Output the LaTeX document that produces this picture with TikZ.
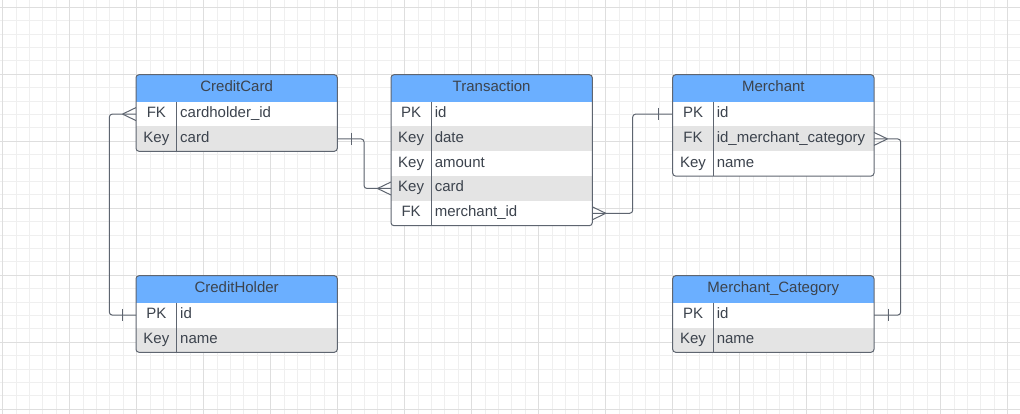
\documentclass[tikz,border=0pt]{standalone}
\usepackage{fontspec}
\setmainfont{Liberation Sans}
\usetikzlibrary{calc}
\definecolor{hdrblue}{HTML}{6BAFFF}
\definecolor{rowgray}{HTML}{E4E4E4}
\definecolor{txt}{HTML}{3C434D}
\definecolor{edge}{HTML}{5E6570}
\definecolor{gridminor}{HTML}{EFEFEF}
\definecolor{gridmajor}{HTML}{DEDEDE}
\tikzset{
  conn/.style={draw=edge, line width=1pt},
  tblborder/.style={draw=edge, line width=1pt, rounded corners=3pt},
  celltext/.style={text=txt, font=\fontsize{15}{17}\selectfont, inner sep=0pt, text height=12pt, text depth=5pt},
  rowbox/.style={inner sep=0pt, outer sep=0pt, minimum height=24.8pt, draw=none},
}
\newcommand\erdtable[8]{%
  \begin{scope}
    \clip[rounded corners=3pt] (#2,#3) rectangle ++(#4,{27+24.8*#7});
    \fill[hdrblue] (#2,#3) rectangle ++(#4,27);
    \node[rowbox, minimum width=#4pt, minimum height=27pt, anchor=north west] (#1) at (#2,#3) {};
    \node[celltext] (#1-title) at (#1.center) {#6};
    \foreach \kk/\ff/\cl [count=\i] in {#8} {
      \pgfmathsetmacro\yy{#3+27+24.8*(\i-1)}
      \node[rowbox, fill=\cl, minimum width=#4pt, anchor=north west] (#1-\i) at (#2,\yy) {};
      \node[celltext] (#1-\i-k) at ($(#1-\i.west)+(#5/2,0)$) {\kk};
      \node[celltext, anchor=west] (#1-\i-f) at ($(#1-\i.west)+(#5+3.3,0)$) {\ff};
    }
    \draw[conn] ($(#1.south west)+(#5,0)$) -- ++(0,{24.8*#7});
  \end{scope}
  \draw[tblborder] (#2,#3) rectangle ++(#4,{27+24.8*#7});
}
\newcommand\crowL[1]{\draw[conn] ($(#1)+(-13.5,0)$) -- ($(#1)+(0,-6.5)$) ($(#1)+(-13.5,0)$) -- ($(#1)+(0,6.5)$);}
\newcommand\crowR[1]{\draw[conn] ($(#1)+(13.5,0)$) -- ($(#1)+(0,-6.5)$) ($(#1)+(13.5,0)$) -- ($(#1)+(0,6.5)$);}
\newcommand\barL[1]{\draw[conn] ($(#1)+(-14,-6.2)$) -- ($(#1)+(-14,6.2)$);}
\newcommand\barR[1]{\draw[conn] ($(#1)+(14,-6.2)$) -- ($(#1)+(14,6.2)$);}
\begin{document}
\begin{tikzpicture}[x=1pt,y=-1pt]
\useasboundingbox (0,0) rectangle (1020,414);
\fill[white] (0,0) rectangle (1020,414);
% grid
\foreach \i in {0,...,75} {\draw[gridminor, line width=1pt] ({2.7+13.4*\i},0) -- ++(0,414);}
\foreach \j in {0,...,30} {\draw[gridminor, line width=1pt] (0,{7.3+13.4*\j}) -- ++(1020,0);}
\foreach \i in {0,...,15} {\draw[gridmajor, line width=1pt] ({2.7+67*\i},0) -- ++(0,414);}
\foreach \j in {0,...,6} {\draw[gridmajor, line width=1pt] (0,{7.3+67*\j}) -- ++(1020,0);}
% tables
\erdtable{cc}{136}{74.7}{201.3}{40.7}{CreditCard}{2}{FK/cardholder\_id/white, Key/card/rowgray}
\erdtable{tr}{391}{74.7}{201.3}{40.3}{Transaction}{5}{PK/id/white, Key/date/rowgray, Key/amount/white, Key/card/rowgray, FK/merchant\_id/white}
\erdtable{me}{672.7}{74.7}{201.3}{40.6}{Merchant}{3}{PK/id/white, FK/id\_merchant\_category/rowgray, Key/name/white}
\erdtable{ch}{136}{275.7}{201.3}{40.7}{CreditHolder}{2}{PK/id/white, Key/name/rowgray}
\erdtable{mc}{672.7}{275.7}{201.3}{40.6}{Merchant\_Category}{2}{PK/id/white, Key/name/rowgray}
% connectors
\draw[conn, rounded corners=3pt] (cc-1.west) -- ++(-26.7,0) |- (ch-1.west);
\crowL{cc-1.west}
\barL{ch-1.west}
\draw[conn, rounded corners=3pt] (cc-2.east) -- ++(26.7,0) |- (tr-4.west);
\barR{cc-2.east}
\crowL{tr-4.west}
\draw[conn, rounded corners=3pt] (tr-5.east) -- ++(40.4,0) |- (me-1.west);
\crowR{tr-5.east}
\barL{me-1.west}
\draw[conn, rounded corners=3pt] (me-2.east) -- ++(26.7,0) |- (mc-1.east);
\crowR{me-2.east}
\barR{mc-1.east}
\end{tikzpicture}
\end{document}
